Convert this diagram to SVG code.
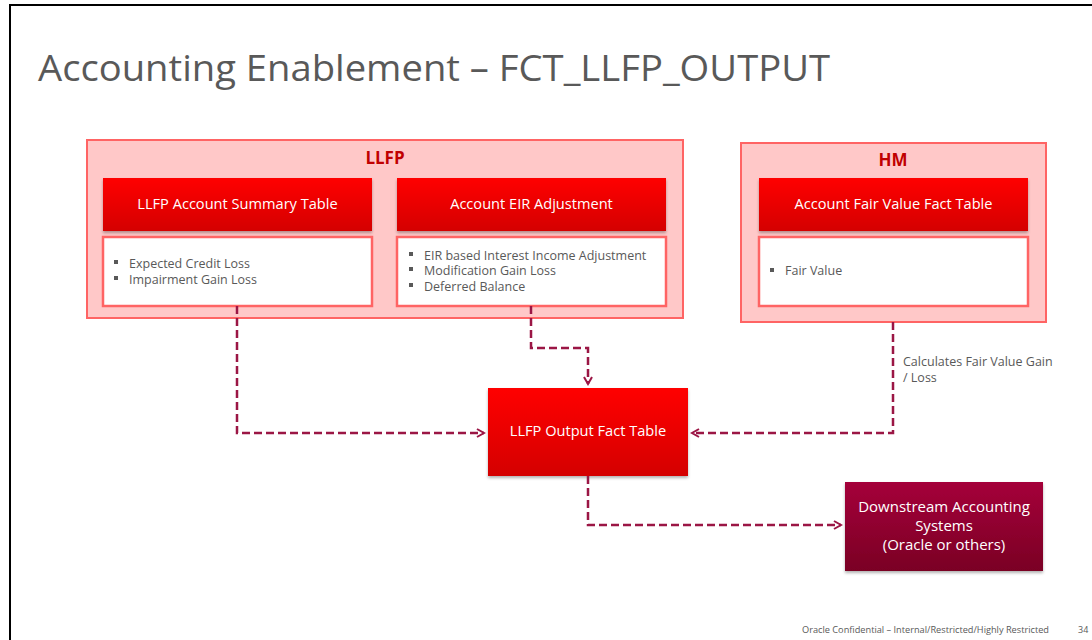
<svg xmlns="http://www.w3.org/2000/svg" width="1092" height="640" viewBox="0 0 1092 640">
<defs>
<linearGradient id="red" x1="0" y1="0" x2="0" y2="1">
<stop offset="0" stop-color="#FF0000"/>
<stop offset="1" stop-color="#D40000"/>
</linearGradient>
<linearGradient id="maroon" x1="0" y1="0" x2="0" y2="1">
<stop offset="0" stop-color="#A5003A"/>
<stop offset="1" stop-color="#7A0024"/>
</linearGradient>
<filter id="sh" x="-5%" y="-10%" width="110%" height="130%">
<feDropShadow dx="0" dy="2" stdDeviation="1.5" flood-color="#000" flood-opacity="0.3"/>
</filter>
<marker id="arr" viewBox="0 0 10 10" refX="8" refY="5" markerWidth="4" markerHeight="4" orient="auto" markerUnits="strokeWidth">
<path d="M1,1 L8,5 L1,9" fill="none" stroke="#9B1645" stroke-width="2"/>
</marker>
<style>
.group{fill:#FFC8C8;stroke:#FF6464;stroke-width:2}
.hdr{fill:url(#red);filter:url(#sh)}
.body{fill:#FFFFFF;stroke:#FF6464;stroke-width:2.5}
.glabel{font-family:"Open Sans","Liberation Sans",sans-serif;font-weight:bold;font-size:17px;fill:#C00000;text-anchor:middle}
.htxt{font-family:"Open Sans","Liberation Sans",sans-serif;font-size:14.6px;fill:#FFFFFF;text-anchor:middle}
.dtxt{font-family:"Open Sans","Liberation Sans",sans-serif;font-size:15px;fill:#FFFFFF;text-anchor:middle}
.btxt{font-family:"Open Sans","Liberation Sans",sans-serif;font-size:12.5px;fill:#595959}
.bul{fill:#595959}
.conn{fill:none;stroke:#9B1645;stroke-width:2.5;stroke-dasharray:8 4}
.note{font-family:"Open Sans","Liberation Sans",sans-serif;font-size:12.5px;fill:#595959}
.foot{font-family:"Open Sans","Liberation Sans",sans-serif;font-size:9px;fill:#595959}
</style>
</defs>
<rect x="0" y="0" width="1092" height="640" fill="#FFFFFF"/>
<path d="M10,640 L10,5 L1092,5" fill="none" stroke="#000" stroke-width="2"/>
<text x="38" y="81" font-family="Open Sans, Liberation Sans, sans-serif" font-size="36" fill="#595959" textLength="792" lengthAdjust="spacingAndGlyphs">Accounting Enablement – FCT_LLFP_OUTPUT</text>

<g id="llfp-group">
<rect class="group" x="87" y="140" width="596" height="178"/>
<text class="glabel" x="385" y="164">LLFP</text>
</g>
<g id="llfp-summary">
<rect class="hdr" x="103" y="178" width="269" height="53"/>
<text class="htxt" x="237.5" y="209">LLFP Account Summary Table</text>
<rect class="body" x="103" y="237" width="269" height="69"/>
<rect class="bul" x="114" y="260" width="4" height="4"/>
<text class="btxt" x="129" y="268">Expected Credit Loss</text>
<rect class="bul" x="114" y="276" width="4" height="4"/>
<text class="btxt" x="129" y="284">Impairment  Gain Loss</text>
</g>
<g id="eir-adjustment">
<rect class="hdr" x="397" y="178" width="269" height="53"/>
<text class="htxt" x="531.5" y="209">Account EIR Adjustment</text>
<rect class="body" x="397" y="237" width="269" height="69"/>
<rect class="bul" x="409" y="252" width="4" height="4"/>
<text class="btxt" x="424" y="260">EIR based Interest Income  Adjustment</text>
<rect class="bul" x="409" y="267" width="4" height="4"/>
<text class="btxt" x="424" y="275">Modification Gain Loss</text>
<rect class="bul" x="409" y="283" width="4" height="4"/>
<text class="btxt" x="424" y="291">Deferred Balance</text>
</g>
<g id="hm-group">
<rect class="group" x="741" y="143" width="305" height="179"/>
<text class="glabel" x="893" y="166">HM</text>
</g>
<g id="fair-value">
<rect class="hdr" x="759" y="178" width="269" height="53"/>
<text class="htxt" x="893.5" y="209">Account Fair Value Fact Table</text>
<rect class="body" x="759" y="237" width="269" height="69"/>
<rect class="bul" x="770" y="268" width="4" height="4"/>
<text class="btxt" x="785" y="275">Fair Value</text>
</g>
<g id="llfp-output">
<rect class="hdr" x="488" y="388" width="200" height="88"/>
<text class="htxt" x="588" y="436">LLFP Output Fact Table</text>
</g>
<g id="downstream">
<rect x="845" y="482" width="198" height="89" fill="url(#maroon)" filter="url(#sh)"/>
<text class="dtxt" x="944" y="512">Downstream Accounting</text>
<text class="dtxt" x="944" y="531">Systems</text>
<text class="dtxt" x="944" y="550">(Oracle or others)</text>
</g>
<g id="connectors">
<path class="conn" d="M237,306 L237,433 L484,433" marker-end="url(#arr)"/>
<path class="conn" d="M531,306 L531,348 L588,348 L588,384" marker-end="url(#arr)"/>
<path class="conn" d="M893,322 L893,433 L692,433" marker-end="url(#arr)"/>
<path class="conn" d="M588,476 L588,525 L841,525" marker-end="url(#arr)"/>
<text class="note" x="903" y="366">Calculates Fair Value Gain</text>
<text class="note" x="903" y="382">/ Loss</text>
</g>
<text class="foot" x="802" y="633" textLength="247" lengthAdjust="spacingAndGlyphs">Oracle Confidential – Internal/Restricted/Highly Restricted</text>
<text class="foot" x="1078" y="633">34</text>
</svg>
